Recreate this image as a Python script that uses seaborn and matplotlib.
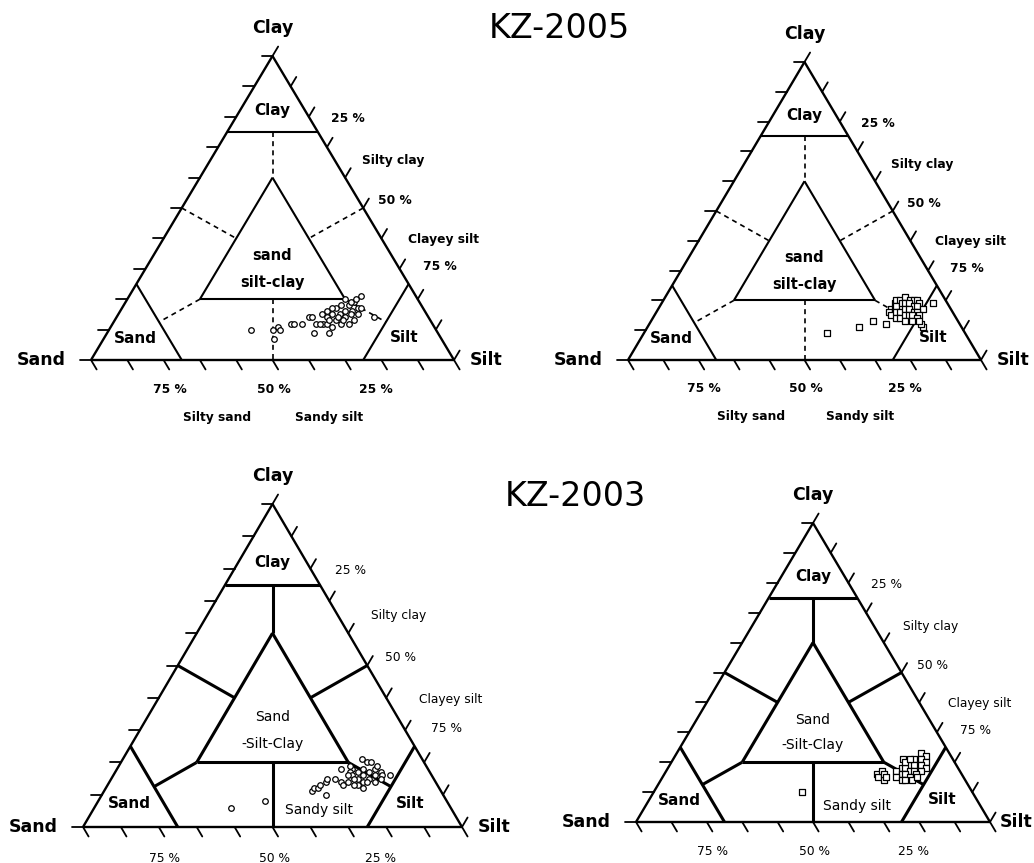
import numpy as np
import pandas as pd
import matplotlib
matplotlib.use("Agg")
import matplotlib.pyplot as plt
import seaborn as sns

sns.set_theme(style="white")
plt.rcParams["font.family"] = ["DejaVu Sans"]
plt.rcParams["text.color"] = "black"

# ---------------------------------------------------------------------------
# Grain-size compositions (sand %, silt %, clay %) for each diagram
# ---------------------------------------------------------------------------
kz2005_a_sand = [51, 45, 43, 43, 46, 39, 38, 36, 33, 32, 34, 32, 30, 29, 30, 28, 26, 25, 21, 29,
                 27, 26, 24, 24, 22, 23, 20, 20, 18, 18, 15, 19, 24, 28, 15, 20, 25, 28, 17, 31,
                 22, 25, 19, 21, 23, 17]
kz2005_a_silt = [39, 45, 46, 47, 47, 49, 50, 52, 53, 54, 57, 56, 58, 59, 61, 61, 61, 63, 66, 56,
                 57, 59, 59, 61, 62, 63, 62, 64, 63, 65, 64, 66, 63, 58, 71, 60, 61, 59, 66, 57,
                 60, 58, 62, 64, 65, 63]
kz2005_a_clay = [10, 10, 11, 10, 7, 12, 12, 12, 14, 14, 9, 12, 12, 12, 9, 11, 13, 12, 13, 15,
                 16, 15, 17, 15, 16, 14, 18, 16, 19, 17, 21, 15, 13, 14, 14, 20, 14, 13, 17, 12,
                 18, 17, 19, 15, 12, 20]

kz2005_b_sand = [39, 29, 24, 21, 4, 11, 11,
                 17, 15, 14, 13, 11, 10, 9, 8, 8, 18, 16, 15, 13, 12, 11, 10, 9, 8,
                 18, 16, 15, 13, 12, 11, 10, 10, 17, 16, 14, 13, 12, 11, 11, 15, 13]
kz2005_b_silt = [52, 60, 63, 67, 77, 78, 77,
                 66, 66, 66, 67, 68, 70, 71, 72, 73, 66, 67, 67, 68, 69, 70, 72, 73, 75,
                 67, 68, 69, 70, 71, 73, 74, 75, 69, 70, 71, 72, 73, 75, 76, 72, 74]
kz2005_b_clay = [9, 11, 13, 12, 19, 11, 12,
                 17, 19, 20, 20, 21, 20, 20, 20, 19, 16, 17, 18, 19, 19, 19, 18, 18, 17,
                 15, 16, 16, 17, 17, 16, 16, 15, 14, 14, 15, 15, 15, 14, 13, 13, 13]

kz2003_a_sand = [58, 48, 34, 33, 32, 31, 29, 28, 26, 31, 23, 25, 25, 16, 15, 14, 11, 20, 17, 14,
                 21, 19, 16, 13, 21, 18, 15, 13, 22, 20, 17, 14, 21, 19, 16, 23, 21, 18, 22, 20,
                 13, 20]
kz2003_a_silt = [36, 44, 55, 55, 56, 56, 57, 57, 59, 59, 59, 61, 62, 63, 65, 66, 73, 62, 65, 68,
                 62, 64, 67, 70, 63, 66, 69, 71, 62, 65, 68, 71, 64, 67, 70, 63, 66, 68, 65, 68,
                 68, 61]
kz2003_a_clay = [6, 8, 11, 12, 12, 13, 14, 15, 15, 10, 18, 14, 13, 21, 20, 20, 16, 18, 18, 18,
                 17, 17, 17, 17, 16, 16, 16, 16, 16, 15, 15, 15, 15, 14, 14, 14, 13, 14, 13, 12,
                 19, 19]

kz2003_b_sand = [48, 24, 24, 22, 23, 22, 22, 14, 8, 7, 11, 9, 8, 13, 12, 10, 9, 16, 15, 14,
                 13, 11, 18, 17, 16, 15, 13, 19, 18, 17, 15, 13, 14, 12]
kz2003_b_silt = [42, 60, 61, 61, 63, 62, 63, 65, 69, 71, 68, 70, 72, 68, 69, 71, 73, 66, 67, 69,
                 70, 72, 65, 67, 68, 70, 71, 66, 68, 69, 71, 72, 66, 67]
kz2003_b_clay = [10, 16, 15, 17, 14, 16, 15, 21, 23, 22, 21, 21, 20, 19, 19, 19, 18, 18, 18, 17,
                 17, 17, 17, 16, 16, 15, 16, 15, 14, 14, 14, 15, 20, 21]

titles = ["KZ-2005", "KZ-2003"]
vertex_names = ["Sand", "Silt", "Clay"]
edge_pct_labels = ["25 %", "50 %", "75 %"]
base_pct_labels = ["75 %", "50 %", "25 %"]
edge_class_labels = ["Silty clay", "Clayey silt"]
base_class_labels = ["Silty sand", "Sandy silt"]

# ---------------------------------------------------------------------------
# Figure and helpers
# ---------------------------------------------------------------------------
FIG_W, FIG_H = 1034, 863
fig = plt.figure(figsize=(FIG_W / 100, FIG_H / 100), dpi=100)
ax = fig.add_axes([0, 0, 1, 1])
ax.set_xlim(0, FIG_W)
ax.set_ylim(FIG_H, 0)
ax.axis("off")


class Ternary:
    """Maps (sand, silt, clay) percentages to figure pixels for one triangle."""

    def __init__(self, x0, y0, w, h):
        self.x0, self.y0, self.w, self.h = x0, y0, w, h

    def xy(self, sand, silt, clay):
        silt = np.asarray(silt, float)
        clay = np.asarray(clay, float)
        x = self.x0 + (silt + clay / 2.0) / 100.0 * self.w
        y = self.y0 - clay / 100.0 * self.h
        return x, y

    def uv(self, u, v):
        return self.x0 + u * self.w, self.y0 - v * self.h


def seg(tri, a, b, **kw):
    xa, ya = tri.xy(*a)
    xb, yb = tri.xy(*b)
    ax.plot([xa, xb], [ya, yb], color="black", solid_capstyle="butt", **kw)


def draw_frame(tri, dashed):
    outer = dict(lw=1.7)
    # outer triangle
    seg(tri, (100, 0, 0), (0, 100, 0), **outer)
    seg(tri, (0, 100, 0), (0, 0, 100), **outer)
    seg(tri, (0, 0, 100), (100, 0, 0), **outer)

    # ticks every 10 %
    L = 11
    ul = np.array([tri.w / 2, -tri.h]); ul /= np.hypot(*ul)
    ur = np.array([tri.w / 2, tri.h]); ur /= np.hypot(*ur)
    for k in range(0, 101, 10):
        x, y = tri.xy(100 - k, 0, k)
        ax.plot([x, x - L], [y, y], color="black", lw=1.3)
        x, y = tri.xy(0, 100 - k, k)
        ax.plot([x, x + L * ul[0]], [y, y + L * ul[1]], color="black", lw=1.3)
        x, y = tri.xy(100 - k, k, 0)
        ax.plot([x, x + L * ur[0]], [y, y + L * ur[1]], color="black", lw=1.3)

    main = dict(lw=1.5) if dashed else dict(lw=2.2)
    # end-member fields
    seg(tri, (25, 0, 75), (0, 25, 75), **main)
    seg(tri, (75, 25, 0), (75, 0, 25), **main)
    seg(tri, (25, 75, 0), (0, 75, 25), **main)
    # central sand-silt-clay field
    seg(tri, (60, 20, 20), (20, 60, 20), **main)
    seg(tri, (20, 60, 20), (20, 20, 60), **main)
    seg(tri, (20, 20, 60), (60, 20, 20), **main)

    div = dict(lw=1.2, ls=(0, (3, 2.5))) if dashed else dict(lw=2.2)
    seg(tri, (12.5, 12.5, 75), (20, 20, 60), **div)
    seg(tri, (50, 0, 50), (40, 20, 40), **div)
    seg(tri, (0, 50, 50), (20, 40, 40), **div)
    seg(tri, (40, 40, 20), (50, 50, 0), **div)
    seg(tri, (60, 20, 20), (75, 12.5, 12.5), **div)
    seg(tri, (20, 60, 20), (12.5, 75, 12.5), **div)


def draw_labels(tri, top_row):
    big = dict(fontsize=12.5, fontweight="bold", ha="center", va="center")
    mid = dict(fontsize=11, fontweight="bold", ha="center", va="center")
    small = dict(fontsize=8.8, fontweight="bold" if top_row else "normal",
                 ha="center", va="center")

    # vertex names
    xs, ys = tri.xy(100, 0, 0)
    ax.text(xs - 50, ys, vertex_names[0], **big)
    xs, ys = tri.xy(0, 100, 0)
    ax.text(min(xs + 32, FIG_W - 18), ys, vertex_names[1], **big)
    xs, ys = tri.xy(0, 0, 100)
    ax.text(xs, ys - 28, vertex_names[2], **big)

    # field names
    ax.text(*tri.uv(0.5, 0.82), "Clay", **mid)
    ax.text(*tri.uv(0.123, 0.072), "Sand", **mid)
    ax.text(*tri.uv(0.864, 0.074), "Silt", **mid)
    if top_row:
        ax.text(*tri.uv(0.5, 0.345), "sand", **dict(mid, fontsize=10.5))
        ax.text(*tri.uv(0.5, 0.255), "silt-clay", **dict(mid, fontsize=10.5))
    else:
        ax.text(*tri.uv(0.5, 0.34), "Sand", **dict(small, fontsize=10))
        ax.text(*tri.uv(0.5, 0.258), "-Silt-Clay", **dict(small, fontsize=10))
        ax.text(*tri.uv(0.623, 0.052), "Sandy silt", **dict(small, fontsize=10))

    # right-edge scale and classes
    for lab, (u, v) in zip(edge_pct_labels, [(0.707, 0.795), (0.838, 0.525), (0.96, 0.306)]):
        ax.text(*tri.uv(u, v), lab, **small)
    for lab, (u, v) in zip(edge_class_labels, [(0.832, 0.655), (0.97, 0.396)]):
        ax.text(*tri.uv(u, v), lab, **small)

    # base scale and classes
    for lab, u in zip(base_pct_labels, [0.216, 0.505, 0.785]):
        ax.text(*tri.uv(u, -0.097), lab, **small)
    if top_row:
        for lab, u in zip(base_class_labels, [0.348, 0.657]):
            ax.text(*tri.uv(u, -0.19), lab, **small)


panels = [
    (Ternary(91, 360, 363, 304), True, "o", kz2005_a_sand, kz2005_a_silt, kz2005_a_clay),
    (Ternary(628, 360, 353, 298), True, "s", kz2005_b_sand, kz2005_b_silt, kz2005_b_clay),
    (Ternary(83, 827, 379, 323), False, "o", kz2003_a_sand, kz2003_a_silt, kz2003_a_clay),
    (Ternary(636, 822, 354, 299), False, "s", kz2003_b_sand, kz2003_b_silt, kz2003_b_clay),
]

for tri, top_row, marker, sand, silt, clay in panels:
    draw_frame(tri, dashed=top_row)
    draw_labels(tri, top_row)
    x, y = tri.xy(sand, silt, clay)
    df = pd.DataFrame({"x": x, "y": y})
    sns.scatterplot(data=df, x="x", y="y", ax=ax, marker=marker, s=16,
                    facecolor="white", edgecolor="black", linewidth=0.9,
                    zorder=5, legend=False)

ax.set_xlim(0, FIG_W)
ax.set_ylim(FIG_H, 0)
ax.axis("off")

ax.text(559, 29, titles[0], fontsize=24, ha="center", va="center")
ax.text(575, 496, titles[1], fontsize=24, ha="center", va="center")

fig.savefig("out.png", dpi=100, facecolor="white")
